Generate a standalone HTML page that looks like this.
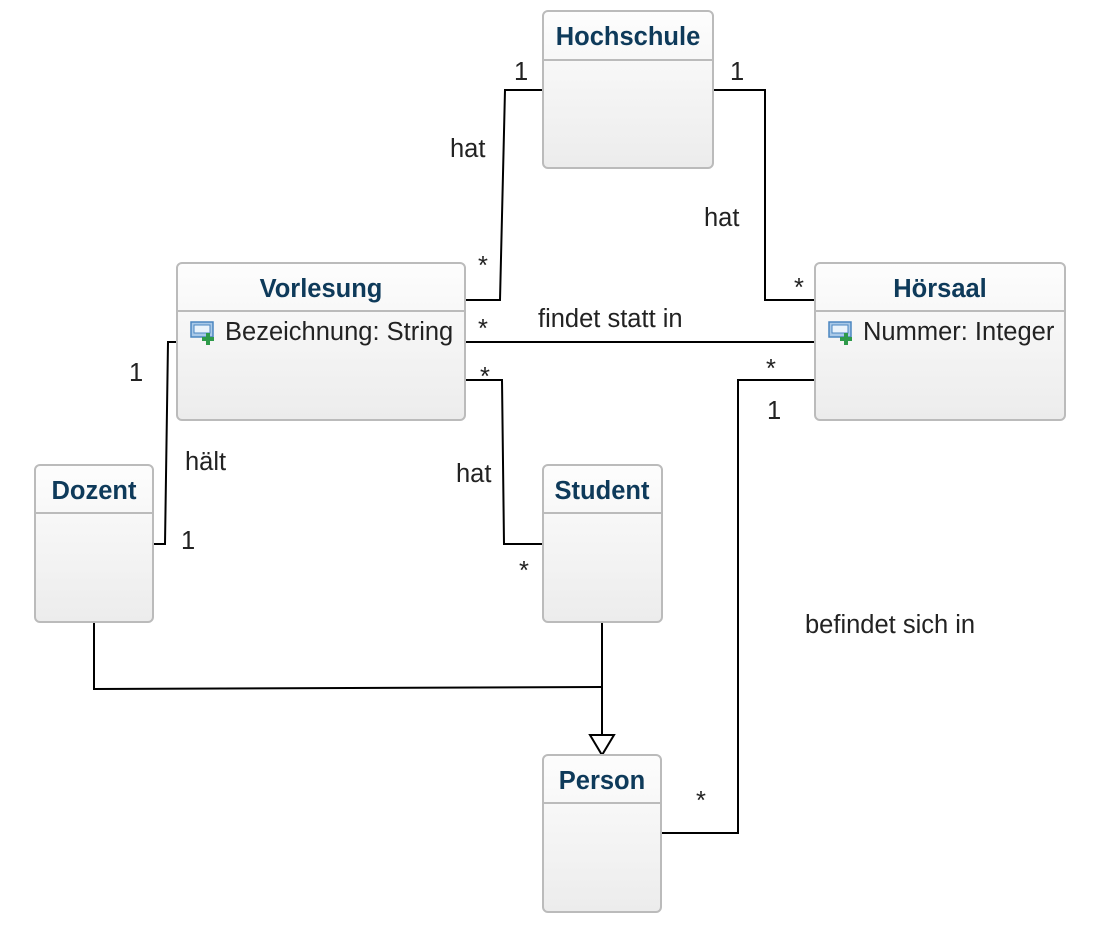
<!DOCTYPE html>
<html><head><meta charset="utf-8"><style>
html,body{margin:0;padding:0;background:#fff;}
svg{display:block}
text{font-family:"Liberation Sans",sans-serif;}
.t{font-size:25.5px;fill:#222;}
.h{font-size:25.5px;font-weight:bold;fill:#0e3a5a;text-anchor:middle;}
.l{stroke:#000;stroke-width:2;fill:none;}
</style></head><body>
<svg width="1118" height="938" viewBox="0 0 1118 938">
<defs>
<linearGradient id="g" x1="0" y1="0" x2="0" y2="1"><stop offset="0" stop-color="#fdfdfd"/><stop offset="1" stop-color="#ececec"/></linearGradient>
<g id="ic"><rect x="0" y="0" width="22" height="15" fill="#a9c9e8" stroke="#4b86c0" stroke-width="1.5"/><rect x="3" y="3" width="16" height="8" fill="#eaf3fb" stroke="#4b86c0" stroke-width="1"/><path d="M15 11h4v4h4v4h-4v4h-4v-4h-4v-4h4z" fill="#2e9a4a"/></g>
</defs>
<polyline class="l" points="543,90 505,90 500,300 465,300"/>
<polyline class="l" points="713,90 765,90 765,300 815,300"/>
<polyline class="l" points="465,342 815,342"/>
<polyline class="l" points="465,380 502,380 504,544 543,544"/>
<polyline class="l" points="177,342 168,342 165,544 153,544"/>
<polyline class="l" points="815,380 738,380 738,833 661,833"/>
<polyline class="l" points="94,622 94,689 602,687"/>
<polyline class="l" points="602,622 602,735"/>
<polygon points="590,735 614,735 602,755" fill="#fff" stroke="#000" stroke-width="2"/>
<g stroke="#bbb" stroke-width="2" fill="url(#g)">
<rect x="543" y="11" width="170" height="157" rx="5"/>
<rect x="177" y="263" width="288" height="157" rx="5"/>
<rect x="815" y="263" width="250" height="157" rx="5"/>
<rect x="35" y="465" width="118" height="157" rx="5"/>
<rect x="543" y="465" width="119" height="157" rx="5"/>
<rect x="543" y="755" width="118" height="157" rx="5"/>
</g>
<g stroke="#bbb" stroke-width="2">
<line x1="543" y1="60" x2="713" y2="60"/>
<line x1="177" y1="311" x2="465" y2="311"/>
<line x1="815" y1="311" x2="1065" y2="311"/>
<line x1="35" y1="513" x2="153" y2="513"/>
<line x1="543" y1="513" x2="662" y2="513"/>
<line x1="543" y1="803" x2="661" y2="803"/>
</g>
<text class="h" x="628" y="45">Hochschule</text>
<text class="h" x="321" y="297">Vorlesung</text>
<text class="h" x="940" y="297">Hörsaal</text>
<text class="h" x="94" y="499">Dozent</text>
<text class="h" x="602" y="499">Student</text>
<text class="h" x="602" y="789">Person</text>
<use href="#ic" x="191" y="322"/>
<text class="t" x="225" y="340">Bezeichnung: String</text>
<use href="#ic" x="829" y="322"/>
<text class="t" x="863" y="340">Nummer: Integer</text>
<text class="t" x="514" y="80">1</text>
<text class="t" x="730" y="80">1</text>
<text class="t" x="450" y="157">hat</text>
<text class="t" x="704" y="226">hat</text>
<text class="t" x="478" y="274">*</text>
<text class="t" x="794" y="296">*</text>
<text class="t" x="538" y="327">findet statt in</text>
<text class="t" x="478" y="337">*</text>
<text class="t" x="480" y="385">*</text>
<text class="t" x="766" y="377">*</text>
<text class="t" x="767" y="419">1</text>
<text class="t" x="129" y="381">1</text>
<text class="t" x="185" y="470">hält</text>
<text class="t" x="181" y="549">1</text>
<text class="t" x="456" y="482">hat</text>
<text class="t" x="519" y="579">*</text>
<text class="t" x="805" y="633">befindet sich in</text>
<text class="t" x="696" y="809">*</text>
</svg>
</body></html>
